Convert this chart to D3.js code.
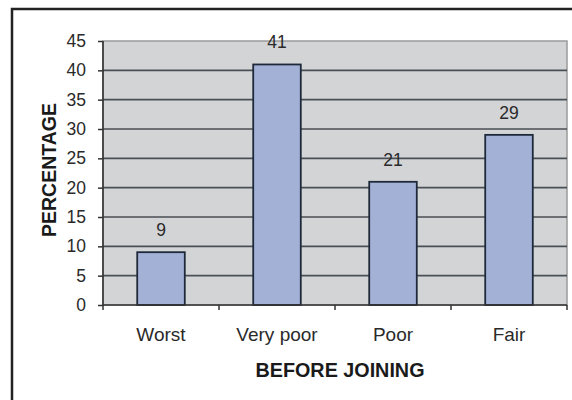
<!DOCTYPE html>
<html>
<head>
<meta charset="utf-8">
<script src="https://cdn.jsdelivr.net/npm/d3@7"></script>
<style>
  html, body { margin: 0; padding: 0; background: #fff; }
  svg { display: block; font-family: "Liberation Sans", Arial, sans-serif; }
</style>
</head>
<body>
<svg id="chart" width="572" height="400"></svg>
<script>
// Rating before joining, percentage of respondents
const categories = ["Worst", "Very poor", "Poor", "Fair"];
const values = [9, 41, 21, 29];
const yTicks = [0, 5, 10, 15, 20, 25, 30, 35, 40, 45];

const svg = d3.select("#chart");
const plot = { left: 103, right: 567, top: 41, bottom: 305 };

// outer frame
svg.append("rect")
  .attr("x", 12).attr("y", 9)
  .attr("width", 572).attr("height", 400)
  .attr("fill", "#fff").attr("stroke", "#222").attr("stroke-width", 2.5);

const x = d3.scaleBand()
  .domain(categories)
  .range([plot.left, plot.right])
  .paddingInner(0.59)
  .paddingOuter(0.295);

const y = d3.scaleLinear().domain([0, 45]).range([plot.bottom, plot.top]);

// plot background
svg.append("rect")
  .attr("x", plot.left).attr("y", plot.top)
  .attr("width", plot.right - plot.left).attr("height", plot.bottom - plot.top)
  .attr("fill", "#d3d4d6").attr("stroke", "#9a9a9a").attr("stroke-width", 1.5);

// gridlines
svg.append("g").selectAll("line")
  .data(yTicks.filter(t => t > 0 && t < 45))
  .join("line")
  .attr("x1", plot.left).attr("x2", plot.right)
  .attr("y1", d => y(d)).attr("y2", d => y(d))
  .attr("stroke", "#4a4f55").attr("stroke-width", 1.6);

// bars
svg.append("g").selectAll("rect")
  .data(values)
  .join("rect")
  .attr("x", (d, i) => x(categories[i]))
  .attr("y", d => y(d))
  .attr("width", x.bandwidth())
  .attr("height", d => y(0) - y(d))
  .attr("fill", "#a3b1d6")
  .attr("stroke", "#1e2a3a").attr("stroke-width", 1.8);

// value labels
svg.append("g").selectAll("text")
  .data(values)
  .join("text")
  .attr("x", (d, i) => x(categories[i]) + x.bandwidth() / 2)
  .attr("y", d => y(d) - 16)
  .attr("text-anchor", "middle")
  .attr("font-size", 17.5)
  .attr("fill", "#2a2a2a")
  .text(d => d);

// y axis
const yAxis = svg.append("g")
  .attr("transform", `translate(${plot.left},0)`)
  .call(d3.axisLeft(y).tickValues(yTicks).tickSize(5).tickPadding(12).tickFormat(d3.format("d")));
yAxis.select(".domain").attr("stroke", "#333").attr("stroke-width", 1.6).attr("d", `M0,${plot.top}V${plot.bottom}`);
yAxis.selectAll(".tick line").attr("stroke", "#333").attr("stroke-width", 1.5);
yAxis.selectAll(".tick text")
  .attr("font-size", 17.5).attr("fill", "#2a2a2a")
  .attr("font-family", "Liberation Sans, Arial, sans-serif");

// x axis with ticks at category boundaries
const xAxis = svg.append("g").attr("transform", `translate(0,${plot.bottom})`);
xAxis.append("line")
  .attr("x1", plot.left).attr("x2", plot.right)
  .attr("y1", 0).attr("y2", 0)
  .attr("stroke", "#333").attr("stroke-width", 1.6);
const step = x.step();
const bounds = d3.range(categories.length + 1).map(i => plot.left + i * step);
xAxis.selectAll(".bt")
  .data(bounds)
  .join("line")
  .attr("x1", d => d).attr("x2", d => d)
  .attr("y1", 0).attr("y2", 5)
  .attr("stroke", "#333").attr("stroke-width", 1.5);
xAxis.selectAll(".cat")
  .data(categories)
  .join("text")
  .attr("x", d => x(d) + x.bandwidth() / 2)
  .attr("y", 36)
  .attr("text-anchor", "middle")
  .attr("font-size", 19)
  .attr("fill", "#2a2a2a")
  .text(d => d);

// axis titles
svg.append("text")
  .attr("x", 340)
  .attr("y", 377)
  .attr("text-anchor", "middle")
  .attr("font-size", 19.5).attr("font-weight", "bold")
  .attr("fill", "#1a1a1a")
  .attr("textLength", 169).attr("lengthAdjust", "spacingAndGlyphs")
  .text("BEFORE JOINING");

svg.append("text")
  .attr("transform", `translate(56,170) rotate(-90)`)
  .attr("text-anchor", "middle")
  .attr("font-size", 19.5).attr("font-weight", "bold")
  .attr("fill", "#1a1a1a")
  .text("PERCENTAGE");
</script>
</body>
</html>
